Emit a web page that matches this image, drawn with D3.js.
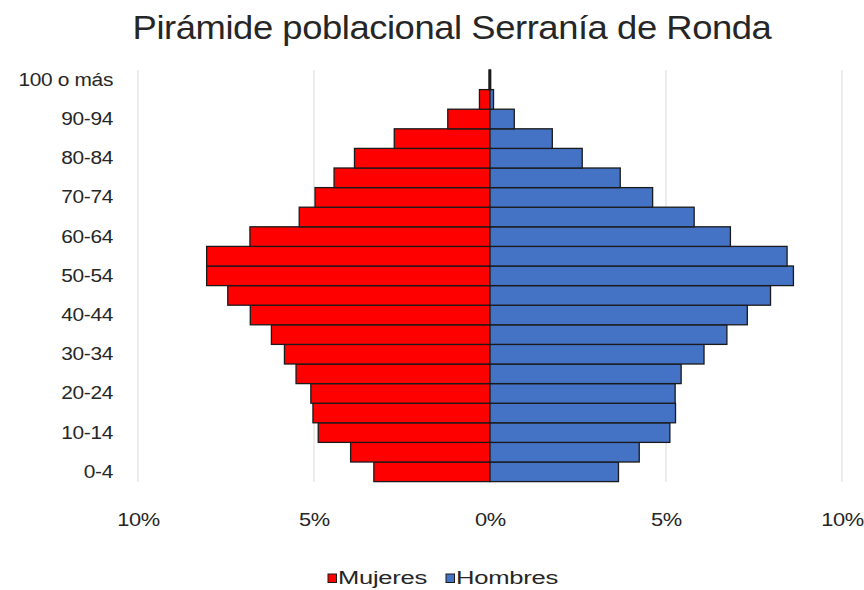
<!DOCTYPE html>
<html><head><meta charset="utf-8">
<script src="https://cdn.jsdelivr.net/npm/d3@7"></script>
<style>body{margin:0;background:#fff}svg{display:block}text{font-family:"Liberation Sans",Arial,sans-serif;fill:#262626}</style>
</head><body><svg id="c" width="864" height="590"></svg>
<script>
const ages = ["0-4","5-9","10-14","15-19","20-24","25-29","30-34","35-39","40-44","45-49","50-54","55-59","60-64","65-69","70-74","75-79","80-84","85-89","90-94","95-99","100 o más"];
const mujeres = [3.30,3.96,4.88,5.03,5.09,5.51,5.84,6.21,6.81,7.45,8.05,8.05,6.82,5.42,4.97,4.43,3.85,2.72,1.20,0.30,0.03];
const hombres = [3.65,4.24,5.11,5.27,5.26,5.43,6.08,6.73,7.31,7.97,8.62,8.44,6.83,5.80,4.62,3.70,2.62,1.77,0.69,0.10,0.02];
const xTicks = [-10,-5,0,5,10];
const title = "Pirámide poblacional Serranía de Ronda";
const series = ["Mujeres","Hombres"];
const colors = ["#ff0000","#4472c4"];

const svg = d3.select("#c");
const x = d3.scaleLinear().domain([-10,10]).range([138,842]);
const y = d3.scaleBand().domain(ages.slice().reverse()).range([70,481.6]).padding(0);

function sx(sel, f){ sel.attr("transform",`scale(${f},1)`); }

// gridlines
svg.append("g").selectAll("line").data(xTicks).join("line")
  .attr("x1",d=>x(d)).attr("x2",d=>x(d)).attr("y1",70).attr("y2",482)
  .attr("stroke","#d9d9d9").attr("stroke-width",1);

const g = svg.append("g");
g.selectAll("rect.m").data(ages).join("rect").attr("class","m")
  .attr("x",(d,i)=>x(-mujeres[i])).attr("width",(d,i)=>x(0)-x(-mujeres[i]))
  .attr("y",d=>y(d)).attr("height",y.bandwidth())
  .attr("fill",colors[0]).attr("stroke","#1a1a1a").attr("stroke-width",1.3);
g.selectAll("rect.h").data(ages).join("rect").attr("class","h")
  .attr("x",x(0)).attr("width",(d,i)=>x(hombres[i])-x(0))
  .attr("y",d=>y(d)).attr("height",y.bandwidth())
  .attr("fill",colors[1]).attr("stroke","#1a1a1a").attr("stroke-width",1.3);

// y labels (every other)
const yAxis = d3.axisLeft(y).tickSize(0).tickPadding(0)
  .tickValues(ages.filter((d,i)=>i%2===0));
const ya = svg.append("g").attr("transform","translate(113,0)").call(yAxis);
ya.select(".domain").remove();
ya.selectAll("text").attr("font-size",19).attr("fill","#262626").attr("letter-spacing","-0.3")
  .style("font-family","'Liberation Sans',Arial,sans-serif");
sx(ya.selectAll("text"),1.1);

// x labels
const xAxis = d3.axisBottom(x).tickValues(xTicks).tickSize(0).tickPadding(0)
  .tickFormat(d=>Math.abs(d)+"%");
const xa = svg.append("g").attr("transform","translate(0,526)").call(xAxis);
xa.select(".domain").remove();
xa.selectAll("text").attr("dy",0).attr("font-size",19).attr("fill","#262626").attr("letter-spacing","-0.3")
  .style("font-family","'Liberation Sans',Arial,sans-serif");
sx(xa.selectAll("text"),1.15);

// title
const t = svg.append("text").attr("text-anchor","middle")
  .attr("font-size",33).attr("fill","#0d0d0d").attr("letter-spacing","-0.4").text(title);
const tw = t.node().getComputedTextLength();
t.attr("transform",`translate(452,39) scale(${639/tw},1)`);

// legend
const leg = svg.append("g");
const lx = [328,446];
const lw = [89,102];
series.forEach((s,i)=>{
  leg.append("rect").attr("x",lx[i]).attr("y",574).attr("width",8.5).attr("height",8.5)
    .attr("fill",colors[i]).attr("stroke","#1a1a1a").attr("stroke-width",1);
  const tt = leg.append("text").attr("font-size",19).attr("letter-spacing","-0.2")
    .attr("fill","#262626").text(s);
  const w = tt.node().getComputedTextLength();
  tt.attr("transform",`translate(${lx[i]+10},583.5) scale(${lw[i]/w},1)`);
});
</script></body></html>
